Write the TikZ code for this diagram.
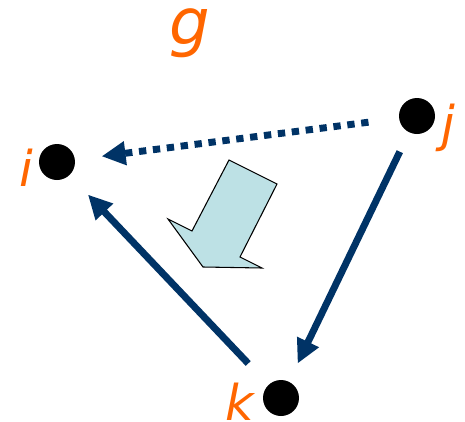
\documentclass[tikz,border=0pt]{standalone}
\usepackage{fontspec}
\setmainfont{DejaVu Sans}
\usetikzlibrary{arrows.meta}
\definecolor{GraphNavy}{HTML}{003366}
\definecolor{GraphOrange}{HTML}{FF6600}
\definecolor{GraphPale}{HTML}{BDE1E5}
\tikzset{
  vertex/.style={circle, fill=black, inner sep=0pt, minimum size=27pt},
  vlabel/.style={text=GraphOrange, font=\fontsize{37}{37}\selectfont\itshape, anchor=base, inner sep=0pt},
  edgeflow/.style={-{Triangle[length=18pt,width=17pt]}, line width=5.2pt, draw=GraphNavy},
  dotflow/.style={edgeflow, dash pattern=on 5.5pt off 5pt}
}
\begin{document}
\begin{tikzpicture}[x=0.75pt, y=-0.75pt]
  \useasboundingbox (0,0) rectangle (465,422);
  % vertices
  \node[vertex] (i) at (57,162) {};
  \node[vertex] (j) at (417,116) {};
  \node[vertex] (k) at (281,398) {};
  % labels
  \node[vlabel] (ilab) at (26,186) {i};
  \node[vlabel] (jlab) at (448,141) {j};
  \node[vlabel] (klab) at (240,420) {k};
  \node[vlabel, font=\fontsize{48}{48}\selectfont\itshape] (glab) at (190,44) {g};
  % edges
  \draw[dotflow, shorten <=23pt, shorten >=20pt] (j) -- (i);
  \draw[edgeflow, shorten <=16pt, shorten >=15pt] (j) -- (k);
  \draw[edgeflow, shorten <=22pt, shorten >=20pt] (k) -- (i);
  % rotation arrow
  \draw[fill=GraphPale, line width=0.8pt, line join=miter]
    (229,160) -- (277,184) -- (240,257) -- (262,268) -- (203,267) -- (168,219) -- (192,231) -- cycle;
\end{tikzpicture}
\end{document}
